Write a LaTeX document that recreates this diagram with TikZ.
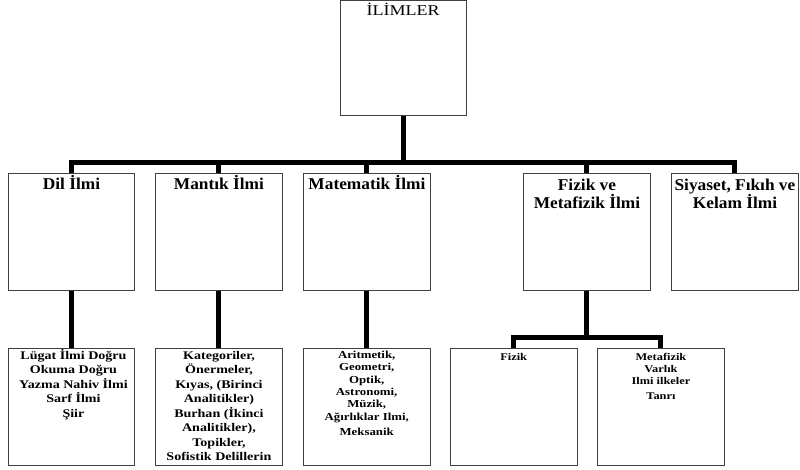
\documentclass[tikz,border=0pt]{standalone}
\usepackage{fontspec}
\setmainfont{Liberation Serif}
\newfontfamily\wideA[FakeStretch=1.05]{Liberation Serif}
\newfontfamily\wideB[FakeStretch=1.2]{Liberation Serif}
\newcommand{\fstrut}[1]{\rule{0pt}{#1}}
\begin{document}
\begin{tikzpicture}[x=1pt,y=-1pt,
  box/.style={draw=black!75, line width=0.9pt, rectangle, inner sep=0pt, anchor=north west, fill=white},
  conn/.style={line width=5pt, draw=black, line join=miter, line cap=butt},
  lbltop/.style={anchor=north, inner sep=0pt, align=center, font=\wideB\fontsize{15}{17}\selectfont},
  lblA/.style={anchor=north, inner sep=0pt, align=center, font=\wideA\bfseries\fontsize{16.5}{18}\selectfont},
  lblB/.style={anchor=north, inner sep=0pt, align=center, font=\wideB\bfseries\fontsize{11.7}{14.5}\selectfont},
  lblC/.style={anchor=north, inner sep=0pt, align=center, font=\wideB\bfseries\fontsize{10.7}{12.4}\selectfont},
  lblD/.style={anchor=north, inner sep=0pt, align=center, font=\wideB\bfseries\fontsize{10.3}{12}\selectfont}
]
\useasboundingbox[fill=white] (0,0) rectangle (800,470);

% top box
\node[box, minimum width=126.5pt, minimum height=114.5pt] (top) at (339.5,0.5) {};
% level 1
\node[box, minimum width=126pt, minimum height=117pt] (dil) at (8,173) {};
\node[box, minimum width=127pt, minimum height=117pt] (mant) at (155,173) {};
\node[box, minimum width=127pt, minimum height=117pt] (mat) at (303,173) {};
\node[box, minimum width=127pt, minimum height=117pt] (fiz) at (523,173) {};
\node[box, minimum width=127pt, minimum height=117pt] (siy) at (671,173) {};
% level 2
\node[box, minimum width=126pt, minimum height=117.5pt] (dil2) at (8,347.5) {};
\node[box, minimum width=127pt, minimum height=117.5pt] (mant2) at (155,347.5) {};
\node[box, minimum width=126.5pt, minimum height=117.5pt] (mat2) at (303,347.5) {};
\node[box, minimum width=127.5pt, minimum height=117.5pt] (fizik) at (449.5,347.5) {};
\node[box, minimum width=127pt, minimum height=117.5pt] (meta) at (597,347.5) {};

% connectors
\coordinate (bus) at (0,162.5);
\coordinate (bus2) at (0,337);
\draw[conn] (top.south) -- (top.south |- bus);
\draw[conn] (dil.north) -- (dil.north |- bus) -- (siy.north |- bus) -- (siy.north);
\draw[conn] (mant.north |- bus) -- (mant.north);
\draw[conn] (mat.north |- bus) -- (mat.north);
\draw[conn] (fiz.north |- bus) -- (fiz.north);
\draw[conn] (dil.south) -- (dil2.north);
\draw[conn] (mant.south) -- (mant2.north);
\draw[conn] (mat.south) -- (mat.south |- mat2.north);
\draw[conn] (fiz.south) -- (fiz.south |- bus2);
\draw[conn] (fizik.north) -- (fizik.north |- bus2) -- (meta.north |- bus2) -- (meta.north);

% labels
\node[lbltop] (topT) at ([yshift=-1pt]top.north) {\fstrut{14pt}İLİMLER};
\node[lblA] (dilT) at ([yshift=-2.3pt]dil.north) {\fstrut{14pt}Dil İlmi};
\node[lblA] (mantT) at ([yshift=-2.3pt]mant.north) {\fstrut{14pt}Mantık İlmi};
\node[lblA] (matT) at ([yshift=-2.3pt]mat.north) {\fstrut{14pt}Matematik İlmi};
\node[lblA] (fizT) at ([yshift=-3pt]fiz.north) {\fstrut{14pt}Fizik ve\\Metafizik İlmi};
\node[lblA] (siyT) at ([yshift=-3pt]siy.north) {\fstrut{14pt}Siyaset, Fıkıh ve\\Kelam İlmi};

\node[lblB] (dil2T) at ([xshift=2pt,yshift=-0.5pt]dil2.north) {\fstrut{11pt}Lügat İlmi Doğru\\Okuma Doğru\\Yazma Nahiv İlmi\\Sarf İlmi\\Şiir};
\node[lblB] (mant2T) at ([yshift=-0.5pt]mant2.north) {\fstrut{11pt}Kategoriler,\\Önermeler,\\Kıyas, (Birinci\\Analitikler)\\Burhan (İkinci\\Analitikler),\\Topikler,\\Sofistik Delillerin};
\node[lblC] (mat2T) at ([yshift=-0.5pt]mat2.north) {\fstrut{10pt}Aritmetik,\\Geometri,\\Optik,\\Astronomi,\\Müzik,\\Ağırlıklar Ilmi,\\[3pt]Meksanik};
\node[lblD] (fizikT) at ([yshift=-2.5pt]fizik.north) {\fstrut{10pt}Fizik};
\node[lblD] (metaT) at ([yshift=-2.5pt]meta.north) {\fstrut{10pt}Metafizik\\Varlık\\Ilmi ilkeler\\[3pt]Tanrı};
\end{tikzpicture}
\end{document}
